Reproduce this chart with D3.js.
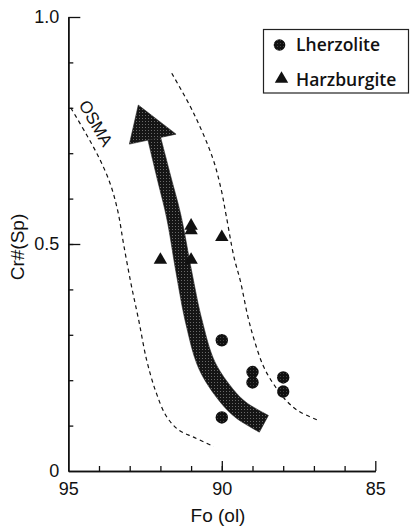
<!DOCTYPE html>
<html>
<head>
<meta charset="utf-8">
<script src="https://cdn.jsdelivr.net/npm/d3@7"></script>
<style>
  html, body { margin: 0; padding: 0; background: #fff; }
  svg { display: block; }
</style>
</head>
<body>
<svg id="chart" width="412" height="530"></svg>
<script>
// ---------- data ----------
const xTickLabels = [95, 90, 85];
const yTickLabels = [0, 0.5, 1.0];

const lherzoliteFo = [90, 89, 89, 88, 88, 90];
const lherzoliteCr = [0.288, 0.218, 0.195, 0.206, 0.175, 0.118];

const harzburgiteFo = [92, 91, 91, 91, 90];
const harzburgiteCr = [0.465, 0.465, 0.530, 0.540, 0.515];

// OSMA boundary curves (dashed)
const osmaLeftFo = [94.92, 94.4, 93.97, 93.62, 93.38, 93.2, 92.95, 92.7, 92.45, 92.15, 91.8, 91.4, 90.9, 90.27];
const osmaLeftCr = [0.800, 0.740, 0.686, 0.630, 0.570, 0.500, 0.410, 0.330, 0.245, 0.175, 0.120, 0.090, 0.074, 0.054];
const osmaRightFo = [91.63, 90.93, 90.30, 90.02, 89.85, 89.60, 89.40, 89.15, 88.95, 88.64, 88.30, 87.90, 87.50, 86.80];
const osmaRightCr = [0.876, 0.790, 0.690, 0.620, 0.560, 0.470, 0.420, 0.340, 0.290, 0.230, 0.190, 0.155, 0.132, 0.110];

// melting trend arrow (centre line, bottom to top) and arrow head
const arrowFo = [88.63, 89.00, 89.39, 89.83, 90.48, 90.91, 91.24, 91.56, 91.89, 92.20];
const arrowCr = [0.104, 0.118, 0.135, 0.165, 0.232, 0.329, 0.440, 0.559, 0.648, 0.732];
const headFo = [93.01, 92.72, 91.49];
const headCr = [0.720, 0.806, 0.742];

const osmaLabel = { text: "OSMA", fo: 94.1, cr: 0.766 };
const legendItems = ["Lherzolite", "Harzburgite"];

// ---------- layout ----------
const svg = d3.select("#chart");
const x = d3.scaleLinear().domain([95, 85]).range([68.3, 375.3]);
const y = d3.scaleLinear().domain([0, 1]).range([471, 17]);
const axisFont = "'Liberation Sans', Arial, sans-serif";

// stipple pattern
const defs = svg.append("defs");
const pat = defs.append("pattern").attr("id", "stipple")
  .attr("patternUnits", "userSpaceOnUse").attr("width", 3).attr("height", 3);
pat.append("rect").attr("width", 3).attr("height", 3).attr("fill", "#151515");
pat.append("rect").attr("x", 1).attr("y", 1).attr("width", 1).attr("height", 1).attr("fill", "#6a6a6a");
const pat2 = defs.append("pattern").attr("id", "stipple2")
  .attr("patternUnits", "userSpaceOnUse").attr("width", 3).attr("height", 3);
pat2.append("rect").attr("width", 3).attr("height", 3).attr("fill", "#111");
pat2.append("rect").attr("x", 1).attr("y", 1).attr("width", 1).attr("height", 1).attr("fill", "#444");

// ---------- dashed OSMA curves ----------
const curveLine = d3.line().x(d => x(d[0])).y(d => y(d[1])).curve(d3.curveCatmullRom.alpha(0.5));
[[osmaLeftFo, osmaLeftCr], [osmaRightFo, osmaRightCr]].forEach(([fo, cr]) => {
  svg.append("path")
    .attr("d", curveLine(fo.map((f, i) => [f, cr[i]])))
    .attr("fill", "none").attr("stroke", "#111").attr("stroke-width", 1.2)
    .attr("stroke-dasharray", "4,3.5");
});

// OSMA label
svg.append("text")
  .attr("transform", `translate(${x(osmaLabel.fo)},${y(osmaLabel.cr)}) rotate(60)`)
  .attr("text-anchor", "middle").attr("dy", "0.35em")
  .attr("font-family", axisFont).attr("font-size", 17)
  .attr("fill", "#111")
  .text(osmaLabel.text);

// ---------- arrow ----------
const centre = arrowFo.map((f, i) => [f, arrowCr[i]]);
const hidden = svg.append("path").attr("d", curveLine(centre)).attr("fill", "none").attr("stroke", "none");
const node = hidden.node();
const L = node.getTotalLength();
const N = 80;
const leftSide = [], rightSide = [];
for (let i = 0; i <= N; i++) {
  const t = i / N;
  const p = node.getPointAtLength(t * L);
  const p2 = node.getPointAtLength(Math.min(L, t * L + 0.5));
  const p1 = node.getPointAtLength(Math.max(0, t * L - 0.5));
  let dx = p2.x - p1.x, dy = p2.y - p1.y;
  const len = Math.hypot(dx, dy) || 1;
  dx /= len; dy /= len;
  const w = (19 + (13 - 19) * t) / 2;
  leftSide.push([p.x - dy * w, p.y + dx * w]);
  rightSide.push([p.x + dy * w, p.y - dx * w]);
}
hidden.remove();
const bandPts = leftSide.concat(rightSide.reverse());
svg.append("path")
  .attr("d", "M" + bandPts.map(p => p.join(",")).join("L") + "Z")
  .attr("fill", "url(#stipple)").attr("stroke", "#222").attr("stroke-width", 0.6);
svg.append("path")
  .attr("d", "M" + headFo.map((f, i) => [x(f), y(headCr[i])].join(",")).join("L") + "Z")
  .attr("fill", "url(#stipple)").attr("stroke", "#222").attr("stroke-width", 0.6);

// ---------- markers ----------
const triSym = d3.symbol().type(d3.symbolTriangle).size(78);
svg.append("g").selectAll("path").data(harzburgiteFo.map((f, i) => [f, harzburgiteCr[i]]))
  .join("path")
  .attr("transform", d => `translate(${x(d[0])},${y(d[1])})`)
  .attr("d", triSym).attr("fill", "#111");
svg.append("g").selectAll("circle").data(lherzoliteFo.map((f, i) => [f, lherzoliteCr[i]]))
  .join("circle")
  .attr("cx", d => x(d[0])).attr("cy", d => y(d[1])).attr("r", 6.2)
  .attr("fill", "url(#stipple2)");

// ---------- axes ----------
const gy = svg.append("g").attr("transform", `translate(${x(95)},0)`);
gy.call(d3.axisLeft(y).tickValues(d3.range(1, 10).map(v => v / 10)).tickSizeInner(-5).tickSizeOuter(0).tickFormat(""));
const gy2 = svg.append("g").attr("transform", `translate(${x(95)},0)`);
gy2.call(d3.axisLeft(y).tickValues(yTickLabels).tickSizeInner(-12).tickSizeOuter(0).tickPadding(9)
  .tickFormat(d => d === 0 ? "0" : d3.format(".1f")(d)));
[gy, gy2].forEach(g => {
  g.selectAll("path.domain").attr("stroke", "#111").attr("stroke-width", 1.5);
  g.selectAll(".tick line").attr("stroke", "#111").attr("stroke-width", 1.3);
  g.selectAll("text").attr("font-family", axisFont).attr("font-size", 18).attr("fill", "#111");
});
gy2.selectAll(".tick").filter(d => d === 0).select("line").remove();

const gx = svg.append("g").attr("transform", `translate(0,${y(0)})`);
gx.call(d3.axisBottom(x).tickValues(d3.range(86, 95)).tickSizeInner(-5).tickSizeOuter(0).tickFormat(""));
const gx2 = svg.append("g").attr("transform", `translate(0,${y(0)})`);
gx2.call(d3.axisBottom(x).tickValues(xTickLabels).tickSizeInner(-10).tickSizeOuter(0).tickPadding(11)
  .tickFormat(d3.format("d")));
[gx, gx2].forEach(g => {
  g.selectAll("path.domain").attr("stroke", "#111").attr("stroke-width", 1.5);
  g.selectAll(".tick line").attr("stroke", "#111").attr("stroke-width", 1.3);
  g.selectAll("text").attr("font-family", axisFont).attr("font-size", 18).attr("fill", "#111");
});
gx2.selectAll(".tick").filter(d => d === 95).select("line").remove();

// axis titles
svg.append("text").attr("x", 218).attr("y", 522).attr("text-anchor", "middle")
  .attr("font-family", axisFont).attr("font-size", 19).attr("fill", "#111").text("Fo (ol)");
svg.append("text").attr("transform", "translate(24,247) rotate(-90)").attr("text-anchor", "middle")
  .attr("font-family", axisFont).attr("font-size", 19).attr("fill", "#111").text("Cr#(Sp)");

// ---------- legend ----------
const lg = svg.append("g");
lg.append("rect").attr("x", 263.5).attr("y", 29.5).attr("width", 145).attr("height", 63.5)
  .attr("fill", "#fff").attr("stroke", "#222").attr("stroke-width", 1.2);
const legFont = "'Open Sans', 'Noto Sans', sans-serif";
lg.append("circle").attr("cx", 279.5).attr("cy", 45).attr("r", 5.8).attr("fill", "url(#stipple2)");
lg.append("path").attr("transform", "translate(281.5,79)").attr("d", triSym).attr("fill", "#111");
legendItems.forEach((t, i) => {
  lg.append("text").attr("x", 296).attr("y", i === 0 ? 51 : 85.5)
    .attr("font-family", legFont).attr("font-weight", 600).attr("font-size", 17.5).attr("fill", "#111").text(t);
});
</script>
</body>
</html>
